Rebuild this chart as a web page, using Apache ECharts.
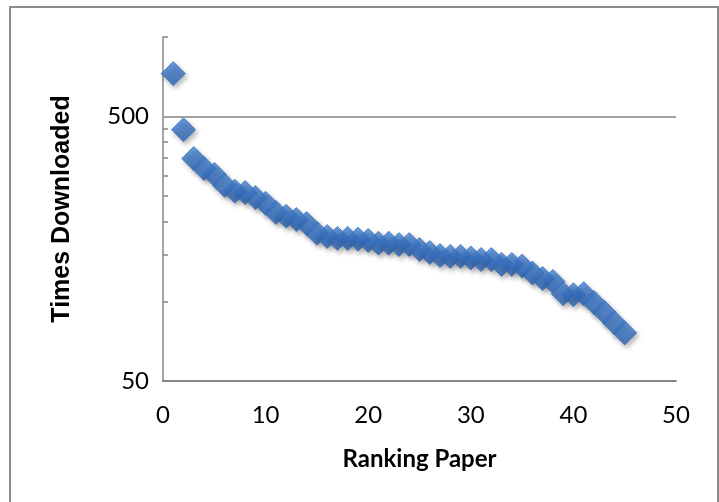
<!DOCTYPE html>
<html>
<head>
<meta charset="utf-8">
<script src="https://cdn.jsdelivr.net/npm/echarts@6/dist/echarts.min.js"></script>
<style>
  html, body { margin: 0; padding: 0; background: #fff; }
  #frame {
    position: absolute; left: 9px; top: 6px; width: 706px; height: 520px;
    border: 2px solid #8c8c8c;
  }
  #chart { position: absolute; left: 0; top: 0; width: 719px; height: 502px; }
</style>
</head>
<body>
<div id="frame"></div>
<div id="chart"></div>
<script>
// ranking of each paper (x) and how often it was downloaded (y, log scale)
const ranks = [
  1, 2, 3, 4, 5, 6, 7, 8, 9, 10,
  11, 12, 13, 14, 15, 16, 17, 18, 19, 20,
  21, 22, 23, 24, 25, 26, 27, 28, 29, 30,
  31, 32, 33, 34, 35, 36, 37, 38, 39, 40,
  41, 42, 43, 44, 45
];
const downloads = [
  727, 446, 347, 318, 302, 275, 261, 258, 247, 235,
  217, 210, 204, 197, 181, 176, 173, 173, 172, 170,
  166, 166, 164, 164, 157, 153, 149, 148, 148, 146,
  144, 144, 138, 138, 136, 128, 122, 119, 107, 106,
  107, 99, 91, 83, 76
];
const yLabelValues = [50, 500];
const yMinorTicks = [100, 150, 200, 250, 300, 350, 400, 450, 1000];

const chart = echarts.init(document.getElementById("chart"), null, { renderer: "canvas" });

const option = {
  animation: false,
  backgroundColor: "transparent",
  grid: { left: 163, right: 43, top: 37, bottom: 121 },
  xAxis: {
    type: "value",
    min: 0,
    max: 50,
    interval: 10,
    name: "Ranking Paper",
    nameLocation: "middle",
    nameGap: 66,
    nameTextStyle: { fontFamily: "Lato", fontWeight: "bold", fontSize: 24, color: "#000" },
    axisLine: { show: true, onZero: false, lineStyle: { color: "#868686", width: 2 } },
    axisTick: { show: false },
    splitLine: { show: false },
    axisLabel: { fontFamily: "Lato", fontSize: 24, color: "#000", margin: 22 }
  },
  yAxis: {
    type: "log",
    logBase: 10,
    min: 50,
    max: 1000,
    name: "Times Downloaded",
    nameLocation: "middle",
    nameGap: 88,
    nameTextStyle: { fontFamily: "Liberation Sans", fontWeight: "bold", fontSize: 25, color: "#000" },
    axisLine: { show: true, lineStyle: { color: "#868686", width: 1.5 } },
    axisTick: {
      show: true,
      inside: true,
      length: 5,
      customValues: yMinorTicks,
      lineStyle: { color: "#868686", width: 1.5 }
    },
    splitLine: { show: false },
    minorTick: { show: false },
    axisLabel: {
      customValues: yLabelValues,
      fontFamily: "Lato",
      fontSize: 24,
      color: "#000",
      margin: 14,
      formatter: (v) => String(Math.round(v))
    }
  },
  series: [
    {
      type: "scatter",
      data: ranks.map((r, i) => [r, downloads[i]]),
      symbol: "diamond",
      symbolSize: 24,
      itemStyle: {
        color: new echarts.graphic.LinearGradient(0, 0, 0, 1, [
          { offset: 0, color: "#4585d8" },
          { offset: 1, color: "#2a5fae" }
        ]),
        borderColor: "#3570c0",
        borderWidth: 1,
        shadowBlur: 5,
        shadowColor: "rgba(0,0,0,0.35)",
        shadowOffsetX: 2,
        shadowOffsetY: 3
      },
      markLine: {
        silent: true,
        symbol: "none",
        label: { show: false },
        lineStyle: { type: "solid", color: "#a0a0a0", width: 2 },
        data: [{ yAxis: 500 }]
      }
    }
  ]
};

chart.setOption(option);
</script>
</body>
</html>
